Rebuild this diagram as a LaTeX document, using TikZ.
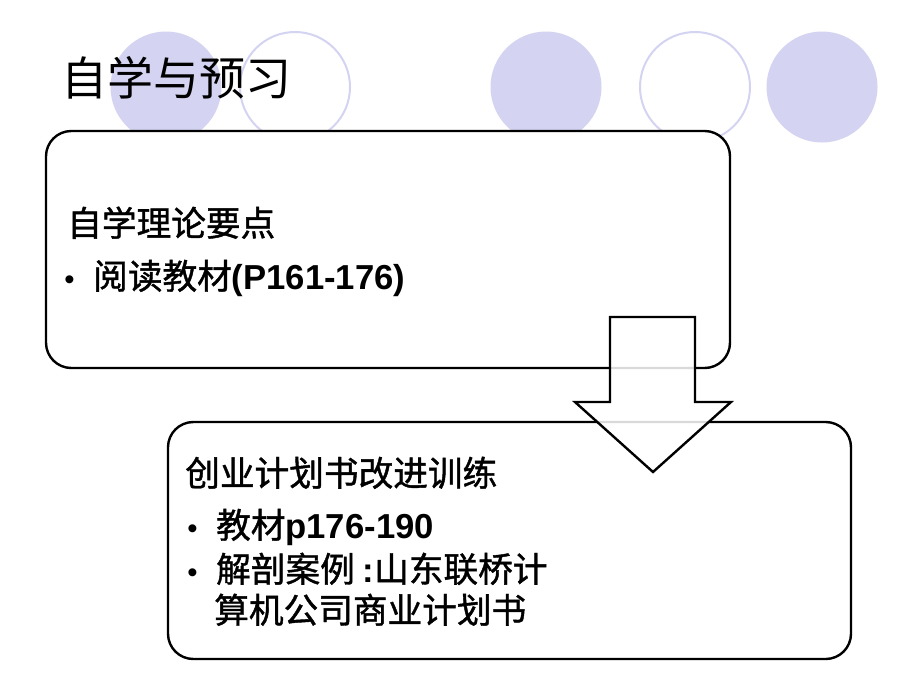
\documentclass[tikz,border=0pt]{standalone}
\usepackage{fontspec}
\newfontfamily\cjk{Noto Sans CJK SC}
\newfontfamily\cjkb[FakeBold=1.2]{Noto Sans CJK SC}
\newfontfamily\arialb{Liberation Sans Bold}
\newfontfamily\arial{Liberation Sans}
\definecolor{lavender}{RGB}{212,212,242}
\newcommand{\bul}{{\arial\fontsize{22}{30}\selectfont•}\hspace{14pt}}
\tikzset{
  dot/.style={fill=lavender,draw=none},
  ring/.style={draw=lavender,line width=1.5pt,fill=white},
  panel/.style={draw=black,line width=1.8pt,rounded corners=19pt,fill=white},
  line/.style={anchor=base west,inner sep=0pt,font=\cjkb\fontsize{26}{30}\selectfont}
}
\begin{document}
\begin{tikzpicture}[x=0.75pt,y=-0.75pt]
  \useasboundingbox (0,0) rectangle (920,690);
  \fill[white] (0,0) rectangle (920,690);

  % decorative circles
  \foreach \cx in {166, 546, 822}
     \path[dot] (\cx,87) circle (55.5);
  \foreach \cx in {295, 695}
     \path[ring] (\cx,87) circle (55);

  \node[anchor=base west,inner sep=0pt,font=\cjk\fontsize{34.5}{40}\selectfont] (title) at (61,95) {自学与预习};

  % boxes
  \draw[panel] (46,131) rectangle (730,368);
  \draw[panel] (168,422) rectangle (851,659);

  \node[line] (self) at (67,236) {自学理论要点};
  \node[line] (read) at (64,289) {\bul 阅读教材{\arialb(P161-176)}};

  \node[line] (train) at (185,486) {创业计划书改进训练};
  \node[line] (book) at (187,538) {\bul 教材{\arialb p176-190}};
  \node[line] (case) at (187,582) {\bul 解剖案例 {\arialb:}山东联桥计};
  \node[line] (case2) at (214,623) {算机公司商业计划书};

  % arrow
  \draw[black,line width=1.8pt,fill=white,fill opacity=0.85,line join=miter]
     (610,317) -- (695,317) -- (695,402) -- (731,402) -- (653,472)
     -- (575,402) -- (610,402) -- cycle;
\end{tikzpicture}
\end{document}
